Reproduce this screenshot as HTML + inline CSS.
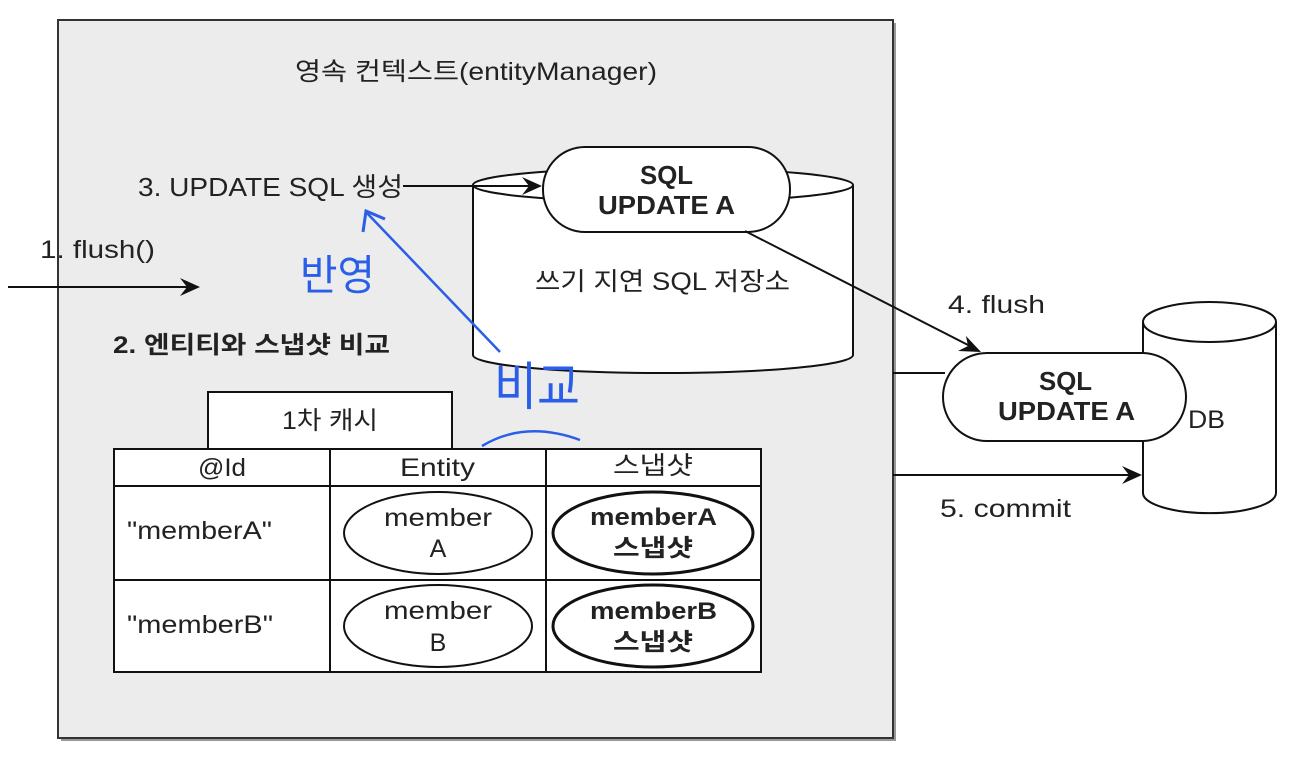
<!DOCTYPE html>
<html><head><meta charset="utf-8"><style>
html,body{margin:0;padding:0;background:#fff;}
svg{display:block;}
text{font-family:"Liberation Sans","Noto Sans CJK KR",sans-serif;fill:#222;}
</style></head><body>
<svg width="1306" height="762" viewBox="0 0 1306 762" xmlns="http://www.w3.org/2000/svg">
<rect x="61" y="23" width="835" height="718" fill="#999"/>
<rect x="58" y="20" width="835" height="718" fill="#ececec" stroke="#333" stroke-width="2"/>
<text x="295" y="80" font-size="25" textLength="362" lengthAdjust="spacingAndGlyphs" fill="#333">영속 컨텍스트(entityManager)</text>

<!-- write-behind cylinder -->
<path d="M473,185 L473,355 A190,18 0 0 0 853,355 L853,185" fill="#fff" stroke="#111" stroke-width="2"/>
<ellipse cx="663" cy="185" rx="190" ry="17" fill="#fff" stroke="#111" stroke-width="2"/>
<rect x="543" y="147" width="247" height="85" rx="42" fill="#fff" stroke="#111" stroke-width="2"/>
<text x="640" y="184" font-size="26" font-weight="bold" textLength="53" lengthAdjust="spacingAndGlyphs" fill="#111">SQL</text>
<text x="598" y="214" font-size="26" font-weight="bold" textLength="137" lengthAdjust="spacingAndGlyphs" fill="#111">UPDATE A</text>
<text x="535" y="290" font-size="25" textLength="255" lengthAdjust="spacingAndGlyphs" fill="#333">쓰기 지연 SQL 저장소</text>

<text x="138" y="196" font-size="26" textLength="265" lengthAdjust="spacingAndGlyphs" fill="#333">3. UPDATE SQL 생성</text>
<line x1="403" y1="186" x2="530" y2="186" stroke="#111" stroke-width="2"/>
<polygon points="542,186 522,177 529,186 522,195" fill="#111"/>
<text x="40" y="258" font-size="25" textLength="115" lengthAdjust="spacingAndGlyphs" fill="#333">1. flush()</text>
<line x1="8" y1="287" x2="190" y2="287" stroke="#111" stroke-width="2"/>
<polygon points="200,287 180,278 187,287 180,296" fill="#111"/>
<text x="113" y="353" font-size="24" font-weight="bold" textLength="277" lengthAdjust="spacingAndGlyphs" fill="#111">2. 엔티티와 스냅샷 비교</text>

<!-- cache -->
<rect x="208" y="392" width="244" height="57" fill="#fff" stroke="#111" stroke-width="2"/>
<text x="282" y="429" font-size="25" textLength="96" lengthAdjust="spacingAndGlyphs" fill="#333">1차 캐시</text>
<rect x="114" y="449" width="647" height="223" fill="#fff" stroke="#111" stroke-width="2"/>
<line x1="114" y1="486" x2="761" y2="486" stroke="#111" stroke-width="2"/>
<line x1="114" y1="580" x2="761" y2="580" stroke="#111" stroke-width="2"/>
<line x1="330" y1="449" x2="330" y2="672" stroke="#111" stroke-width="2"/>
<line x1="546" y1="449" x2="546" y2="672" stroke="#111" stroke-width="2"/>
<text x="198" y="476" font-size="25" textLength="48" lengthAdjust="spacingAndGlyphs" fill="#333">@Id</text>
<text x="400" y="476" font-size="25" textLength="75" lengthAdjust="spacingAndGlyphs" fill="#333">Entity</text>
<text x="613" y="474" font-size="25" textLength="80" lengthAdjust="spacingAndGlyphs" fill="#333">스냅샷</text>
<text x="127" y="539" font-size="25" textLength="145" lengthAdjust="spacingAndGlyphs" fill="#333">"memberA"</text>
<text x="127" y="633" font-size="25" textLength="146" lengthAdjust="spacingAndGlyphs" fill="#333">"memberB"</text>
<ellipse cx="438" cy="533" rx="94" ry="41" fill="#fff" stroke="#111" stroke-width="2"/>
<ellipse cx="438" cy="626" rx="94" ry="41" fill="#fff" stroke="#111" stroke-width="2"/>
<ellipse cx="653" cy="533" rx="100" ry="41" fill="#fff" stroke="#111" stroke-width="3"/>
<ellipse cx="653" cy="626" rx="100" ry="41" fill="#fff" stroke="#111" stroke-width="3"/>
<text x="384" y="526" font-size="25" textLength="108" lengthAdjust="spacingAndGlyphs" fill="#333">member</text>
<text x="438" y="557" font-size="25" text-anchor="middle" fill="#333">A</text>
<text x="384" y="619" font-size="25" textLength="108" lengthAdjust="spacingAndGlyphs" fill="#333">member</text>
<text x="438" y="651" font-size="25" text-anchor="middle" fill="#333">B</text>
<text x="590" y="525" font-size="24" font-weight="bold" textLength="127" lengthAdjust="spacingAndGlyphs" fill="#111">memberA</text>
<text x="613" y="556" font-size="24" font-weight="bold" textLength="80" lengthAdjust="spacingAndGlyphs" fill="#111">스냅샷</text>
<text x="590" y="619" font-size="24" font-weight="bold" textLength="127" lengthAdjust="spacingAndGlyphs" fill="#111">memberB</text>
<text x="613" y="650" font-size="24" font-weight="bold" textLength="80" lengthAdjust="spacingAndGlyphs" fill="#111">스냅샷</text>

<!-- DB -->
<path d="M1143,322 L1143,493 A66,20 0 0 0 1276,493 L1276,322" fill="#fff" stroke="#111" stroke-width="2"/>
<ellipse cx="1209.5" cy="322" rx="66.5" ry="20" fill="#fff" stroke="#111" stroke-width="2"/>
<text x="1188" y="428" font-size="25" textLength="37" lengthAdjust="spacingAndGlyphs" fill="#222">DB</text>
<rect x="943" y="353" width="243" height="88" rx="44" fill="#fff" stroke="#111" stroke-width="2"/>
<text x="1039" y="390" font-size="26" font-weight="bold" textLength="53" lengthAdjust="spacingAndGlyphs" fill="#111">SQL</text>
<text x="998" y="420" font-size="26" font-weight="bold" textLength="137" lengthAdjust="spacingAndGlyphs" fill="#111">UPDATE A</text>
<line x1="893" y1="373" x2="945" y2="373" stroke="#111" stroke-width="2"/>
<line x1="745" y1="231" x2="970" y2="346" stroke="#111" stroke-width="2"/>
<polygon points="981,352 966,336 968,346 958,351" fill="#111"/>
<text x="948" y="313" font-size="25" textLength="97" lengthAdjust="spacingAndGlyphs" fill="#333">4. flush</text>
<line x1="893" y1="475" x2="1130" y2="475" stroke="#111" stroke-width="2"/>
<polygon points="1142,475 1122,466 1129,475 1122,484" fill="#111"/>
<text x="940" y="517" font-size="25" textLength="131" lengthAdjust="spacingAndGlyphs" fill="#333">5. commit</text>

<!-- blue handwriting -->
<line x1="500" y1="352" x2="366" y2="212" stroke="#2a5ee8" stroke-width="2.5"/>
<path d="M363,232 L366,211 L385,219" fill="none" stroke="#2a5ee8" stroke-width="3"/>
<text x="300" y="290" font-size="42" style="fill:#2a5ee8" textLength="75" lengthAdjust="spacingAndGlyphs">반영</text>
<text x="494" y="405" font-size="52" style="fill:#2a5ee8" textLength="86" lengthAdjust="spacingAndGlyphs">비교</text>
<path d="M482,446 Q525,420 580,440" fill="none" stroke="#2a5ee8" stroke-width="2.5"/>
</svg>
</body></html>
